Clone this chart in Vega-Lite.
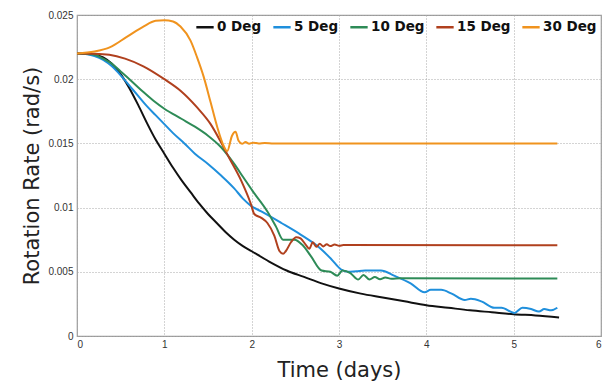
{
  "$schema": "https://vega.github.io/schema/vega-lite/v6.json",
  "width": 524,
  "height": 321,
  "autosize": "none",
  "padding": {"left": 77, "top": 15, "right": 1, "bottom": 51},
  "background": "white",
  "config": {
    "view": {"stroke": "#9a9a9a", "strokeWidth": 1.2},
    "axis": {
      "labelFont": "Liberation Sans", "labelFontSize": 10, "labelColor": "#333",
      "titleFont": "DejaVu Sans", "titleFontSize": 21, "titleFontWeight": "normal", "titleColor": "#222",
      "grid": true, "gridColor": "#a8a8a8", "gridDash": [1, 2], "gridWidth": 1, "gridOpacity": 1,
      "domain": false, "ticks": false
    }
  },
  "data": {"values": [
    {"series": "0 Deg", "day": 0, "rate": 0.022},
    {"series": "0 Deg", "day": 0.1, "rate": 0.02198},
    {"series": "0 Deg", "day": 0.2, "rate": 0.0219},
    {"series": "0 Deg", "day": 0.3, "rate": 0.0217},
    {"series": "0 Deg", "day": 0.4, "rate": 0.0212},
    {"series": "0 Deg", "day": 0.5, "rate": 0.0204},
    {"series": "0 Deg", "day": 0.6, "rate": 0.0193},
    {"series": "0 Deg", "day": 0.7, "rate": 0.0180},
    {"series": "0 Deg", "day": 0.8, "rate": 0.0166},
    {"series": "0 Deg", "day": 0.9, "rate": 0.0153},
    {"series": "0 Deg", "day": 1.0, "rate": 0.0142},
    {"series": "0 Deg", "day": 1.1, "rate": 0.0131},
    {"series": "0 Deg", "day": 1.2, "rate": 0.0121},
    {"series": "0 Deg", "day": 1.3, "rate": 0.0112},
    {"series": "0 Deg", "day": 1.4, "rate": 0.0103},
    {"series": "0 Deg", "day": 1.5, "rate": 0.0095},
    {"series": "0 Deg", "day": 1.6, "rate": 0.0088},
    {"series": "0 Deg", "day": 1.7, "rate": 0.0081},
    {"series": "0 Deg", "day": 1.8, "rate": 0.0075},
    {"series": "0 Deg", "day": 1.9, "rate": 0.0070},
    {"series": "0 Deg", "day": 2.0, "rate": 0.0066},
    {"series": "0 Deg", "day": 2.2, "rate": 0.0058},
    {"series": "0 Deg", "day": 2.4, "rate": 0.0051},
    {"series": "0 Deg", "day": 2.6, "rate": 0.0046},
    {"series": "0 Deg", "day": 2.8, "rate": 0.0041},
    {"series": "0 Deg", "day": 3.0, "rate": 0.0037},
    {"series": "0 Deg", "day": 3.25, "rate": 0.0033},
    {"series": "0 Deg", "day": 3.5, "rate": 0.0030},
    {"series": "0 Deg", "day": 3.75, "rate": 0.0027},
    {"series": "0 Deg", "day": 4.0, "rate": 0.0024},
    {"series": "0 Deg", "day": 4.25, "rate": 0.0022},
    {"series": "0 Deg", "day": 4.5, "rate": 0.0020},
    {"series": "0 Deg", "day": 4.75, "rate": 0.00185},
    {"series": "0 Deg", "day": 5.0, "rate": 0.0017},
    {"series": "0 Deg", "day": 5.25, "rate": 0.0016},
    {"series": "0 Deg", "day": 5.52, "rate": 0.00145},

    {"series": "5 Deg", "day": 0, "rate": 0.022},
    {"series": "5 Deg", "day": 0.1, "rate": 0.02196},
    {"series": "5 Deg", "day": 0.2, "rate": 0.0218},
    {"series": "5 Deg", "day": 0.3, "rate": 0.0215},
    {"series": "5 Deg", "day": 0.4, "rate": 0.0210},
    {"series": "5 Deg", "day": 0.5, "rate": 0.0203},
    {"series": "5 Deg", "day": 0.6, "rate": 0.0195},
    {"series": "5 Deg", "day": 0.7, "rate": 0.0187},
    {"series": "5 Deg", "day": 0.8, "rate": 0.0179},
    {"series": "5 Deg", "day": 0.9, "rate": 0.0172},
    {"series": "5 Deg", "day": 1.0, "rate": 0.0165},
    {"series": "5 Deg", "day": 1.1, "rate": 0.0158},
    {"series": "5 Deg", "day": 1.23, "rate": 0.0150},
    {"series": "5 Deg", "day": 1.35, "rate": 0.0142},
    {"series": "5 Deg", "day": 1.5, "rate": 0.0134},
    {"series": "5 Deg", "day": 1.65, "rate": 0.0125},
    {"series": "5 Deg", "day": 1.8, "rate": 0.0115},
    {"series": "5 Deg", "day": 1.9, "rate": 0.0107},
    {"series": "5 Deg", "day": 2.0, "rate": 0.0101},
    {"series": "5 Deg", "day": 2.11, "rate": 0.0097},
    {"series": "5 Deg", "day": 2.34, "rate": 0.0088},
    {"series": "5 Deg", "day": 2.56, "rate": 0.0079},
    {"series": "5 Deg", "day": 2.79, "rate": 0.0068},
    {"series": "5 Deg", "day": 2.91, "rate": 0.0060},
    {"series": "5 Deg", "day": 3.02, "rate": 0.0052},
    {"series": "5 Deg", "day": 3.1, "rate": 0.0050},
    {"series": "5 Deg", "day": 3.2, "rate": 0.00505},
    {"series": "5 Deg", "day": 3.3, "rate": 0.0051},
    {"series": "5 Deg", "day": 3.48, "rate": 0.0051},
    {"series": "5 Deg", "day": 3.63, "rate": 0.0047},
    {"series": "5 Deg", "day": 3.82, "rate": 0.0041},
    {"series": "5 Deg", "day": 3.98, "rate": 0.0034},
    {"series": "5 Deg", "day": 4.05, "rate": 0.0036},
    {"series": "5 Deg", "day": 4.17, "rate": 0.0036},
    {"series": "5 Deg", "day": 4.29, "rate": 0.0033},
    {"series": "5 Deg", "day": 4.44, "rate": 0.0028},
    {"series": "5 Deg", "day": 4.51, "rate": 0.0029},
    {"series": "5 Deg", "day": 4.63, "rate": 0.0027},
    {"series": "5 Deg", "day": 4.78, "rate": 0.0022},
    {"series": "5 Deg", "day": 4.86, "rate": 0.0022},
    {"series": "5 Deg", "day": 5.01, "rate": 0.0018},
    {"series": "5 Deg", "day": 5.1, "rate": 0.0022},
    {"series": "5 Deg", "day": 5.2, "rate": 0.0021},
    {"series": "5 Deg", "day": 5.29, "rate": 0.0019},
    {"series": "5 Deg", "day": 5.35, "rate": 0.0021},
    {"series": "5 Deg", "day": 5.43, "rate": 0.0020},
    {"series": "5 Deg", "day": 5.5, "rate": 0.0022},

    {"series": "10 Deg", "day": 0, "rate": 0.022},
    {"series": "10 Deg", "day": 0.1, "rate": 0.02197},
    {"series": "10 Deg", "day": 0.2, "rate": 0.0219},
    {"series": "10 Deg", "day": 0.3, "rate": 0.0216},
    {"series": "10 Deg", "day": 0.4, "rate": 0.0212},
    {"series": "10 Deg", "day": 0.5, "rate": 0.0206},
    {"series": "10 Deg", "day": 0.6, "rate": 0.0200},
    {"series": "10 Deg", "day": 0.76, "rate": 0.0190},
    {"series": "10 Deg", "day": 0.88, "rate": 0.0183},
    {"series": "10 Deg", "day": 1.0, "rate": 0.0177},
    {"series": "10 Deg", "day": 1.2, "rate": 0.0169},
    {"series": "10 Deg", "day": 1.35, "rate": 0.0163},
    {"series": "10 Deg", "day": 1.5, "rate": 0.0156},
    {"series": "10 Deg", "day": 1.65, "rate": 0.0147},
    {"series": "10 Deg", "day": 1.8, "rate": 0.0134},
    {"series": "10 Deg", "day": 1.9, "rate": 0.0124},
    {"series": "10 Deg", "day": 2.01, "rate": 0.0113},
    {"series": "10 Deg", "day": 2.18, "rate": 0.0097},
    {"series": "10 Deg", "day": 2.28, "rate": 0.0085},
    {"series": "10 Deg", "day": 2.36, "rate": 0.0075},
    {"series": "10 Deg", "day": 2.49, "rate": 0.0075},
    {"series": "10 Deg", "day": 2.58, "rate": 0.0071},
    {"series": "10 Deg", "day": 2.68, "rate": 0.0062},
    {"series": "10 Deg", "day": 2.8, "rate": 0.0051},
    {"series": "10 Deg", "day": 2.9, "rate": 0.0050},
    {"series": "10 Deg", "day": 2.98, "rate": 0.0047},
    {"series": "10 Deg", "day": 3.04, "rate": 0.0051},
    {"series": "10 Deg", "day": 3.13, "rate": 0.0049},
    {"series": "10 Deg", "day": 3.22, "rate": 0.0044},
    {"series": "10 Deg", "day": 3.28, "rate": 0.00475},
    {"series": "10 Deg", "day": 3.35, "rate": 0.0044},
    {"series": "10 Deg", "day": 3.41, "rate": 0.0046},
    {"series": "10 Deg", "day": 3.47, "rate": 0.00442},
    {"series": "10 Deg", "day": 3.53, "rate": 0.00456},
    {"series": "10 Deg", "day": 3.6, "rate": 0.00445},
    {"series": "10 Deg", "day": 3.7, "rate": 0.0045},
    {"series": "10 Deg", "day": 5.5, "rate": 0.00448},

    {"series": "15 Deg", "day": 0, "rate": 0.022},
    {"series": "15 Deg", "day": 0.2, "rate": 0.02198},
    {"series": "15 Deg", "day": 0.37, "rate": 0.0219},
    {"series": "15 Deg", "day": 0.55, "rate": 0.0216},
    {"series": "15 Deg", "day": 0.76, "rate": 0.0210},
    {"series": "15 Deg", "day": 1.0, "rate": 0.0200},
    {"series": "15 Deg", "day": 1.185, "rate": 0.0191},
    {"series": "15 Deg", "day": 1.375, "rate": 0.0178},
    {"series": "15 Deg", "day": 1.53, "rate": 0.0165},
    {"series": "15 Deg", "day": 1.64, "rate": 0.0152},
    {"series": "15 Deg", "day": 1.74, "rate": 0.0139},
    {"series": "15 Deg", "day": 1.88, "rate": 0.0121},
    {"series": "15 Deg", "day": 1.99, "rate": 0.0103},
    {"series": "15 Deg", "day": 2.03, "rate": 0.0095},
    {"series": "15 Deg", "day": 2.11, "rate": 0.0092},
    {"series": "15 Deg", "day": 2.18, "rate": 0.0088},
    {"series": "15 Deg", "day": 2.26, "rate": 0.0078},
    {"series": "15 Deg", "day": 2.32, "rate": 0.0066},
    {"series": "15 Deg", "day": 2.36, "rate": 0.0064},
    {"series": "15 Deg", "day": 2.39, "rate": 0.0066},
    {"series": "15 Deg", "day": 2.45, "rate": 0.0073},
    {"series": "15 Deg", "day": 2.51, "rate": 0.0077},
    {"series": "15 Deg", "day": 2.56, "rate": 0.0076},
    {"series": "15 Deg", "day": 2.62, "rate": 0.0071},
    {"series": "15 Deg", "day": 2.66, "rate": 0.0068},
    {"series": "15 Deg", "day": 2.7, "rate": 0.0073},
    {"series": "15 Deg", "day": 2.74, "rate": 0.00695},
    {"series": "15 Deg", "day": 2.78, "rate": 0.00718},
    {"series": "15 Deg", "day": 2.82, "rate": 0.00698},
    {"series": "15 Deg", "day": 2.86, "rate": 0.00714},
    {"series": "15 Deg", "day": 2.9, "rate": 0.00700},
    {"series": "15 Deg", "day": 2.95, "rate": 0.00712},
    {"series": "15 Deg", "day": 3.0, "rate": 0.00703},
    {"series": "15 Deg", "day": 3.05, "rate": 0.00708},
    {"series": "15 Deg", "day": 5.5, "rate": 0.00706},

    {"series": "30 Deg", "day": 0, "rate": 0.022},
    {"series": "30 Deg", "day": 0.2, "rate": 0.02215},
    {"series": "30 Deg", "day": 0.38, "rate": 0.0225},
    {"series": "30 Deg", "day": 0.57, "rate": 0.0233},
    {"series": "30 Deg", "day": 0.76, "rate": 0.0241},
    {"series": "30 Deg", "day": 0.9, "rate": 0.02455},
    {"series": "30 Deg", "day": 1.0, "rate": 0.0246},
    {"series": "30 Deg", "day": 1.1, "rate": 0.0245},
    {"series": "30 Deg", "day": 1.185, "rate": 0.0241},
    {"series": "30 Deg", "day": 1.3, "rate": 0.0230},
    {"series": "30 Deg", "day": 1.375, "rate": 0.0217},
    {"series": "30 Deg", "day": 1.45, "rate": 0.0202},
    {"series": "30 Deg", "day": 1.53, "rate": 0.0182},
    {"series": "30 Deg", "day": 1.605, "rate": 0.0163},
    {"series": "30 Deg", "day": 1.68, "rate": 0.0148},
    {"series": "30 Deg", "day": 1.72, "rate": 0.0144},
    {"series": "30 Deg", "day": 1.775, "rate": 0.0156},
    {"series": "30 Deg", "day": 1.815, "rate": 0.0159},
    {"series": "30 Deg", "day": 1.85, "rate": 0.0152},
    {"series": "30 Deg", "day": 1.89, "rate": 0.01497},
    {"series": "30 Deg", "day": 1.93, "rate": 0.0151},
    {"series": "30 Deg", "day": 1.97, "rate": 0.01498},
    {"series": "30 Deg", "day": 2.02, "rate": 0.01506},
    {"series": "30 Deg", "day": 2.08, "rate": 0.01499},
    {"series": "30 Deg", "day": 2.15, "rate": 0.01504},
    {"series": "30 Deg", "day": 2.25, "rate": 0.015},
    {"series": "30 Deg", "day": 5.5, "rate": 0.015}
  ]},
  "mark": {"type": "line", "strokeWidth": 2, "strokeJoin": "round", "interpolate": "monotone"},
  "encoding": {
    "x": {
      "field": "day", "type": "quantitative",
      "scale": {"domain": [0, 6], "nice": false, "zero": false},
      "axis": {"title": "Time (days)", "values": [0, 1, 2, 3, 4, 5, 6], "labelPadding": 3, "titlePadding": 10}
    },
    "y": {
      "field": "rate", "type": "quantitative",
      "scale": {"domain": [0, 0.025], "nice": false},
      "axis": {"title": "Rotation Rate (rad/s)", "values": [0, 0.005, 0.01, 0.015, 0.02, 0.025], "format": "~g", "labelPadding": 4, "titlePadding": 5}
    },
    "color": {
      "field": "series", "type": "nominal",
      "scale": {
        "domain": ["0 Deg", "5 Deg", "10 Deg", "15 Deg", "30 Deg"],
        "range": ["#111111", "#1f8fdc", "#2e8b57", "#b0401e", "#f0931e"]
      },
      "legend": {
        "title": null, "orient": "none", "direction": "horizontal",
        "legendX": 118, "legendY": 2,
        "symbolType": "stroke", "symbolSize": 300, "symbolStrokeWidth": 2.5,
        "labelFont": "DejaVu Sans", "labelFontWeight": "bold", "labelFontSize": 13.5, "labelColor": "#111",
        "labelOffset": 2, "columnPadding": 6
      }
    }
  }
}
